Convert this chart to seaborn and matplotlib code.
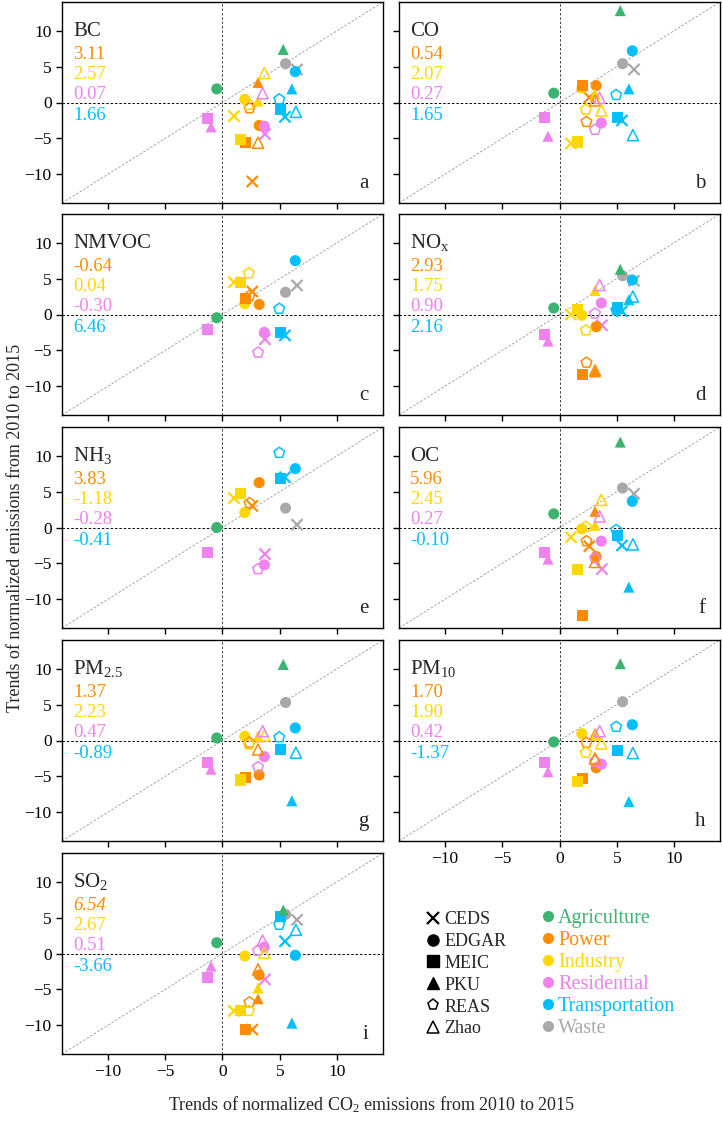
import numpy as np
import pandas as pd
import matplotlib
matplotlib.use("Agg")
import matplotlib.pyplot as plt
from matplotlib.lines import Line2D
import seaborn as sns

sns.set_style("ticks")
plt.rcParams['font.family'] = ['Liberation Serif', 'DejaVu Serif']
plt.rcParams['mathtext.default'] = 'regular'

nan = np.nan

# sectors / inventories
SECTORS = ["Agriculture", "Power", "Industry", "Residential", "Transportation", "Waste"]
SECTOR_COLORS = ["mediumseagreen", "darkorange", "gold", "violet", "deepskyblue", "darkgray"]
INVENTORIES = ["CEDS", "EDGAR", "MEIC", "PKU", "REAS", "Zhao"]
INV_MARKERS = ["x", "o", "s", "^", "p", "^"]
OPEN_INV = ["REAS", "Zhao"]

# (sector, inventory) pairs and their CO2 trend (x axis, same in every panel)
PAIR_SECTOR = ["Agriculture", "Agriculture",
               "Power", "Power", "Power", "Power", "Power", "Power",
               "Industry", "Industry", "Industry", "Industry", "Industry", "Industry",
               "Residential", "Residential", "Residential", "Residential", "Residential", "Residential",
               "Transportation", "Transportation", "Transportation", "Transportation", "Transportation", "Transportation",
               "Waste", "Waste"]
PAIR_INV = ["EDGAR", "PKU",
            "CEDS", "EDGAR", "MEIC", "PKU", "REAS", "Zhao",
            "CEDS", "EDGAR", "MEIC", "PKU", "REAS", "Zhao",
            "CEDS", "EDGAR", "MEIC", "PKU", "REAS", "Zhao",
            "CEDS", "EDGAR", "MEIC", "PKU", "REAS", "Zhao",
            "CEDS", "EDGAR"]
CO2_TREND = [-0.5, 5.3,
             2.6, 3.2, 2.0, 3.1, 2.35, 3.1,
             1.0, 1.95, 1.6, 3.1, 2.3, 3.65,
             3.7, 3.65, -1.3, -1.0, 3.1, 3.5,
             5.45, 6.35, 5.05, 6.05, 4.95, 6.4,
             6.5, 5.5]

# trends of each pollutant, same order as the pairs above
BC = [1.9, 7.4,
      -11.0, -3.2, -5.6, 2.8, -0.8, -5.6,
      -1.9, 0.45, -5.2, 0.2, -0.3, 4.1,
      -4.4, -3.3, -2.25, -3.4, nan, 1.3,
      -2.0, 4.3, -1.0, 1.9, 0.45, -1.3,
      4.6, 5.4]
CO = [1.3, 12.8,
      0.7, 2.35, 2.35, nan, -2.7, 0.3,
      -5.7, 2.0, -5.5, 1.2, -1.0, -1.1,
      nan, -2.85, -2.15, -4.7, -3.8, 0.65,
      -2.5, 7.2, -2.15, 1.9, 1.05, -4.55,
      4.6, 5.4]
NMVOC = [-0.45, nan,
         3.2, 1.4, 2.2, nan, 2.6, nan,
         4.5, 1.5, 4.4, nan, 5.75, nan,
         -3.45, -2.5, -2.05, nan, -5.3, nan,
         -2.9, 7.5, -2.5, nan, 0.8, nan,
         4.05, 3.1]
NOX = [0.9, 6.3,
       nan, -1.7, -8.4, -8.0, -6.7, -7.8,
       0.0, -0.1, 0.7, 3.35, -2.2, nan,
       -1.5, 1.6, -2.75, -3.7, 0.15, 4.1,
       0.45, 4.8, 0.9, 2.05, 0.6, 2.5,
       4.7, 5.4]
NH3 = [0.0, nan,
       3.0, 6.25, nan, nan, 3.4, nan,
       4.1, 2.1, 4.7, nan, nan, nan,
       -3.7, -5.2, -3.5, nan, -5.8, nan,
       7.0, 8.2, 6.85, nan, 10.4, nan,
       0.4, 2.7]
OC = [1.9, 11.9,
      -2.6, -4.05, -12.3, 2.25, -1.9, -4.8,
      -1.35, -0.2, -5.8, 0.3, 0.1, 3.85,
      -5.8, -1.9, -3.5, -4.4, -4.3, 1.55,
      -2.5, 3.65, -1.1, -8.3, -0.35, -2.35,
      4.7, 5.5]
PM25 = [0.35, 10.6,
        nan, -4.8, -5.15, 0.5, -0.3, -1.25,
        nan, 0.6, -5.5, 0.6, -0.55, 0.7,
        nan, -2.25, -3.1, -4.0, -3.7, 1.3,
        nan, 1.75, -1.25, -8.4, 0.45, -1.7,
        nan, 5.3]
PM10 = [-0.2, 10.7,
        nan, -3.8, -5.3, 1.0, -0.3, -2.5,
        nan, 0.95, -5.75, 0.7, -1.7, -0.4,
        nan, -3.3, -3.1, -4.35, -2.9, 1.3,
        nan, 2.2, -1.4, -8.5, 1.9, -1.75,
        nan, 5.4]
SO2 = [1.5, 6.05,
       -10.6, -3.0, -10.6, -6.3, -6.8, -2.2,
       -8.0, -0.35, -8.0, -4.8, -8.0, 0.1,
       -3.6, 0.9, -3.3, -1.75, 0.4, 1.8,
       1.7, -0.25, 5.15, -9.7, 4.0, 3.3,
       4.7, 5.45]

POLLUTANTS = ["BC", "CO", "NMVOC", "NOx", "NH3", "OC", "PM2.5", "PM10", "SO2"]
POLLUTANT_LABELS = ["BC", "CO", "NMVOC", "NO$_x$", "NH$_3$", "OC", "PM$_{2.5}$", "PM$_{10}$", "SO$_2$"]
PANEL_LETTERS = ["a", "b", "c", "d", "e", "f", "g", "h", "i"]

# numbers written in each panel (power, industry, residential, transportation)
STAT_POWER = ["3.11", "0.54", "-0.64", "2.93", "3.83", "5.96", "1.37", "1.70", "6.54"]
STAT_INDUSTRY = ["2.57", "2.07", "0.04", "1.75", "-1.18", "2.45", "2.23", "1.90", "2.67"]
STAT_RESIDENTIAL = ["0.07", "0.27", "-0.30", "0.90", "-0.28", "0.27", "0.47", "0.42", "0.51"]
STAT_TRANSPORT = ["1.66", "1.65", "6.46", "2.16", "-0.41", "-0.10", "-0.89", "-1.37", "-3.66"]
STAT_COLORS = ["darkorange", "gold", "violet", "deepskyblue"]

# build long table
rows = []
for pol, vals in zip(POLLUTANTS, [BC, CO, NMVOC, NOX, NH3, OC, PM25, PM10, SO2]):
    for sec, inv, x, y in zip(PAIR_SECTOR, PAIR_INV, CO2_TREND, vals):
        rows.append({"pollutant": pol, "sector": sec, "inventory": inv, "x": x, "y": y})
df = pd.DataFrame(rows)
palette = dict(zip(SECTORS, SECTOR_COLORS))

fig = plt.figure(figsize=(7.22, 11.22), dpi=100)

col_left = [62 / 722, 399 / 722]
ax_w = 321 / 722
ax_h = 201 / 1122
row_top = [2, 214, 427, 640, 853]
lim = 14

for i, pol in enumerate(POLLUTANTS):
    r, c = divmod(i, 2)
    bottom = 1 - (row_top[r] + 201) / 1122
    ax = fig.add_axes([col_left[c], bottom, ax_w, ax_h])
    d = df[df.pollutant == pol]

    ax.axhline(0, color="k", lw=0.7, ls=(0, (2.5, 2)), zorder=1)
    ax.axvline(0, color="0.25", lw=0.7, ls=(0, (2.5, 2)), zorder=1)
    ax.axline((0, 0), slope=1, color="0.6", lw=0.6, ls=(0, (3, 2)), zorder=1)

    for inv, mk in zip(INVENTORIES, INV_MARKERS):
        sub = d[(d.inventory == inv) & d.y.notna()]
        if sub.empty:
            continue
        sns.scatterplot(data=sub, x="x", y="y", hue="sector", palette=palette,
                        hue_order=SECTORS, marker=mk, s=64, legend=False,
                        ax=ax, zorder=3)
        coll = ax.collections[-1]
        fc = coll.get_facecolors()
        if inv in OPEN_INV:
            coll.set_edgecolors(fc)
            coll.set_facecolors("none")
            coll.set_linewidths(1.1)
        elif mk == "x":
            coll.set_edgecolors(fc)
            coll.set_linewidths(1.6)
        else:
            coll.set_edgecolors("none")

    ax.set_xlim(-lim, lim)
    ax.set_ylim(-lim, lim)
    ax.set_xticks([-10, -5, 0, 5, 10])
    ax.set_yticks([-10, -5, 0, 5, 10])
    ax.set_xlabel("")
    ax.set_ylabel("")
    ax.tick_params(direction="out", length=4, width=1, labelsize=12.5, colors="k")
    for sp in ax.spines.values():
        sp.set_color("k")
        sp.set_linewidth(1.0)
    if i not in (7, 8):
        ax.tick_params(labelbottom=False)
    if c == 1:
        ax.tick_params(labelleft=False)

    # pollutant name and stats
    ax.text(0.034, 0.83, POLLUTANT_LABELS[i], transform=ax.transAxes,
            fontsize=15, va="baseline", ha="left")
    stats = [STAT_POWER[i], STAT_INDUSTRY[i], STAT_RESIDENTIAL[i], STAT_TRANSPORT[i]]
    for k, (s, col) in enumerate(zip(stats, STAT_COLORS)):
        style = "italic" if (pol == "SO2" and k == 0) else "normal"
        ax.text(0.034, 0.715 - 0.1 * k, s, transform=ax.transAxes, color=col,
                fontsize=13.5, va="baseline", ha="left", style=style)
    ax.text(0.955, 0.05, PANEL_LETTERS[i], transform=ax.transAxes,
            fontsize=15, va="bottom", ha="right")

# legends
inv_handles = []
for inv, mk in zip(INVENTORIES, INV_MARKERS):
    if inv in OPEN_INV:
        h = Line2D([], [], ls="none", marker=mk, markersize=8, markerfacecolor="none",
                   markeredgecolor="k", markeredgewidth=1.1)
    elif mk == "x":
        h = Line2D([], [], ls="none", marker=mk, markersize=8, color="k", markeredgewidth=1.6)
    else:
        h = Line2D([], [], ls="none", marker=mk, markersize=8, color="k")
    inv_handles.append(h)
fig.legend(inv_handles, INVENTORIES, loc="upper left", bbox_to_anchor=(426 / 722, 1 - 911 / 1122),
           frameon=False, fontsize=13, handlelength=0.8, handletextpad=0.2,
           labelspacing=0.27, borderpad=0, borderaxespad=0)

sec_handles = [Line2D([], [], ls="none", marker="o", markersize=8, color=cl, markeredgecolor="none")
               for cl in SECTOR_COLORS]
fig.legend(sec_handles, SECTORS, loc="upper left", bbox_to_anchor=(541 / 722, 1 - 909 / 1122),
           frameon=False, fontsize=14.5, handlelength=0.7, handletextpad=0.15,
           labelspacing=0.14, borderpad=0, borderaxespad=0, labelcolor=SECTOR_COLORS)

fig.text(0.021, 1 - 528 / 1122, "Trends of normalized emissions from 2010 to 2015",
         rotation=90, ha="center", va="center", fontsize=13)
fig.text(372 / 722, 1 - 1105 / 1122, "Trends of normalized CO$_2$ emissions from 2010 to 2015",
         ha="center", va="center", fontsize=13)

plt.savefig("out.png", dpi=100)
plt.close()
